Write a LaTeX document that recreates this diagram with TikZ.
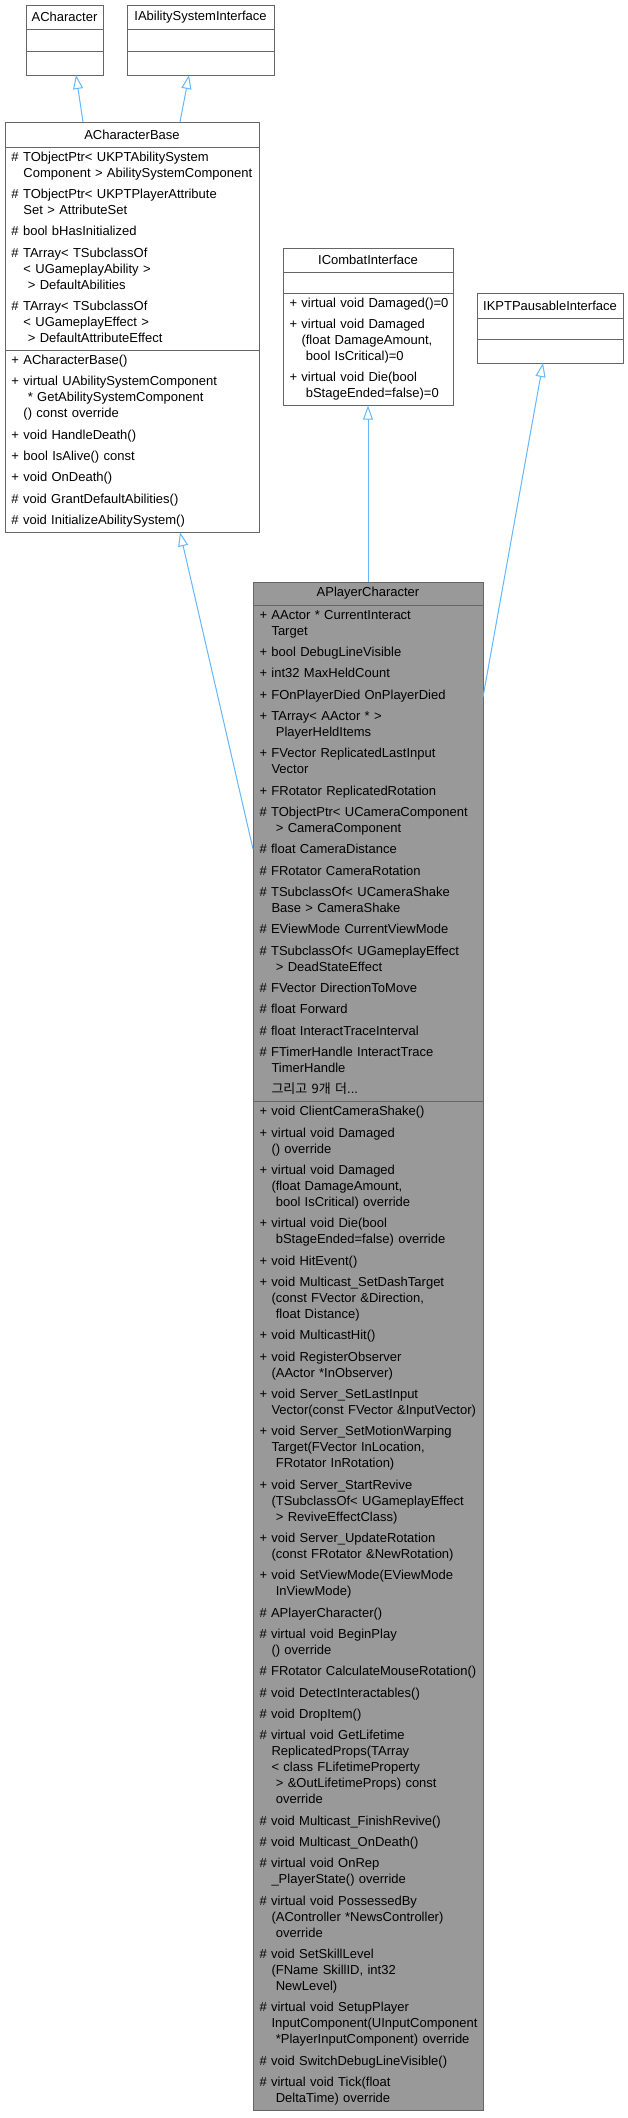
\documentclass[tikz,border=0pt]{standalone}
\usepackage{fontspec}
\setmainfont{Liberation Sans}
\newfontfamily\kofont{Noto Sans CJK KR}
\usetikzlibrary{arrows.meta, positioning, calc}
\definecolor{borda}{HTML}{666666}
\definecolor{cinza}{HTML}{999999}
\definecolor{azul}{HTML}{63B8FF}
\newcommand{\ind}{\hspace*{12pt}}
\newcommand{\novo}{\\[5.33pt]}
\newcommand{\lista}[1]{\begin{tabular}{@{}l@{}}#1\end{tabular}}

\begin{document}
\begin{tikzpicture}[
        x=1pt, y=-1pt,
        font=\fontsize{13}{16}\selectfont,
        caixa/.style={draw=borda, line width=1pt, outer sep=0pt, fill=white},
        titulo/.style={caixa, minimum width=#1, minimum height=24pt, inner sep=0pt, anchor=north west},
        membros/.style={caixa, text width=#1, align=left, inner xsep=6.5pt, inner ysep=3pt},
        vazio/.style={caixa, minimum width=#1, minimum height=22pt, inner sep=0pt},
        atual/.style={fill=cinza},
        seta/.style={-{Triangle[open, length=14pt, width=10pt]}, draw=azul, line width=1pt}
    ]
        \useasboundingbox[fill=white] (0,0) rectangle (628,2118);

        % ACharacter
        \node[titulo=77pt] (chT) at (26,5) {ACharacter};
        \node[vazio=77pt, below=0pt of chT] (chA) {};
        \node[vazio=77pt, minimum height=24pt, below=0pt of chA] (chM) {};

        % IAbilitySystemInterface
        \node[titulo=147pt] (asT) at (127,5) {IAbilitySystemInterface};
        \node[vazio=147pt, below=0pt of asT] (asA) {};
        \node[vazio=147pt, minimum height=24pt, below=0pt of asA] (asM) {};

        % ACharacterBase
        \node[titulo=254pt, minimum height=25pt] (cbT) at (5,122) {ACharacterBase};
        \node[membros=241pt, below=0pt of cbT] (cbA) {\lista{%
            \# TObjectPtr< UKPTAbilitySystem\\
            \ind Component > AbilitySystemComponent\novo
            \# TObjectPtr< UKPTPlayerAttribute\\
            \ind Set > AttributeSet\novo
            \# bool bHasInitialized\novo
            \# TArray< TSubclassOf\\
            \ind < UGameplayAbility >\\
            \ind\ > DefaultAbilities\novo
            \# TArray< TSubclassOf\\
            \ind < UGameplayEffect >\\
            \ind\ > DefaultAttributeEffect}};
        \node[membros=241pt, below=0pt of cbA] (cbM) {\lista{%
            + ACharacterBase()\novo
            + virtual UAbilitySystemComponent\\
            \ind\ * GetAbilitySystemComponent\\
            \ind () const override\novo
            + void HandleDeath()\novo
            + bool IsAlive() const\novo
            + void OnDeath()\novo
            \# void GrantDefaultAbilities()\novo
            \# void InitializeAbilitySystem()}};

        % ICombatInterface
        \node[titulo=170pt] (ciT) at (283,248) {ICombatInterface};
        \node[vazio=170pt, minimum height=21pt, below=0pt of ciT] (ciA) {};
        \node[membros=157pt, below=0pt of ciA] (ciM) {\lista{%
            + virtual void Damaged()=0\novo
            + virtual void Damaged\\
            \ind (float DamageAmount,\\
            \ind\ bool IsCritical)=0\novo
            + virtual void Die(bool\\
            \ind\ bStageEnded=false)=0}};

        % IKPTPausableInterface
        \node[titulo=146pt, minimum height=25pt] (ipT) at (477,293) {IKPTPausableInterface};
        \node[vazio=146pt, minimum height=21pt, below=0pt of ipT] (ipA) {};
        \node[vazio=146pt, minimum height=24pt, below=0pt of ipA] (ipM) {};

        % APlayerCharacter
        \node[titulo=230pt, minimum height=23pt, atual] (pcT) at (253,582) {APlayerCharacter};
        \node[membros=217pt, atual, below=0pt of pcT] (pcA) {\lista{%
            + AActor * CurrentInteract\\
            \ind Target\novo
            + bool DebugLineVisible\novo
            + int32 MaxHeldCount\novo
            + FOnPlayerDied OnPlayerDied\novo
            + TArray< AActor * >\\
            \ind\ PlayerHeldItems\novo
            + FVector ReplicatedLastInput\\
            \ind Vector\novo
            + FRotator ReplicatedRotation\novo
            \# TObjectPtr< UCameraComponent\\
            \ind\ > CameraComponent\novo
            \# float CameraDistance\novo
            \# FRotator CameraRotation\novo
            \# TSubclassOf< UCameraShake\\
            \ind Base > CameraShake\novo
            \# EViewMode CurrentViewMode\novo
            \# TSubclassOf< UGameplayEffect\\
            \ind\ > DeadStateEffect\novo
            \# FVector DirectionToMove\novo
            \# float Forward\novo
            \# float InteractTraceInterval\novo
            \# FTimerHandle InteractTrace\\
            \ind TimerHandle\novo
            \ind{\kofont 그리고 9개 더}...}};
        \node[membros=217pt, atual, below=0pt of pcA] (pcM) {\lista{%
            + void ClientCameraShake()\novo
            + virtual void Damaged\\
            \ind () override\novo
            + virtual void Damaged\\
            \ind (float DamageAmount,\\
            \ind\ bool IsCritical) override\novo
            + virtual void Die(bool\\
            \ind\ bStageEnded=false) override\novo
            + void HitEvent()\novo
            + void Multicast\_SetDashTarget\\
            \ind (const FVector \&Direction,\\
            \ind\ float Distance)\novo
            + void MulticastHit()\novo
            + void RegisterObserver\\
            \ind (AActor *InObserver)\novo
            + void Server\_SetLastInput\\
            \ind Vector(const FVector \&InputVector)\novo
            + void Server\_SetMotionWarping\\
            \ind Target(FVector InLocation,\\
            \ind\ FRotator InRotation)\novo
            + void Server\_StartRevive\\
            \ind (TSubclassOf< UGameplayEffect\\
            \ind\ > ReviveEffectClass)\novo
            + void Server\_UpdateRotation\\
            \ind (const FRotator \&NewRotation)\novo
            + void SetViewMode(EViewMode\\
            \ind\ InViewMode)\novo
            \# APlayerCharacter()\novo
            \# virtual void BeginPlay\\
            \ind () override\novo
            \# FRotator CalculateMouseRotation()\novo
            \# void DetectInteractables()\novo
            \# void DropItem()\novo
            \# virtual void GetLifetime\\
            \ind ReplicatedProps(TArray\\
            \ind < class FLifetimeProperty\\
            \ind\ > \&OutLifetimeProps) const\\
            \ind\ override\novo
            \# void Multicast\_FinishRevive()\novo
            \# void Multicast\_OnDeath()\novo
            \# virtual void OnRep\\
            \ind \_PlayerState() override\novo
            \# virtual void PossessedBy\\
            \ind (AController *NewsController)\\
            \ind\ override\novo
            \# void SetSkillLevel\\
            \ind (FName SkillID, int32\\
            \ind\ NewLevel)\novo
            \# virtual void SetupPlayer\\
            \ind InputComponent(UInputComponent\\
            \ind\ *PlayerInputComponent) override\novo
            \# void SwitchDebugLineVisible()\novo
            \# virtual void Tick(float\\
            \ind\ DeltaTime) override}};

        % heranca
        \draw[seta] ($(cbT.north west)+(78,0)$) -- ($(chM.south west)+(50,0)$);
        \draw[seta] ($(cbT.north west)+(175,0)$) -- ($(asM.south west)+(62,0)$);
        \draw[seta] (pcT.north) -- (ciM.south);
        \draw[seta] ($(pcA.north west)+(0,244)$) -- ($(cbM.south west)+(175,0)$);
        \draw[seta] ($(pcA.north east)+(0,92)$) -- ($(ipM.south west)+(66,0)$);
\end{tikzpicture}
\end{document}
